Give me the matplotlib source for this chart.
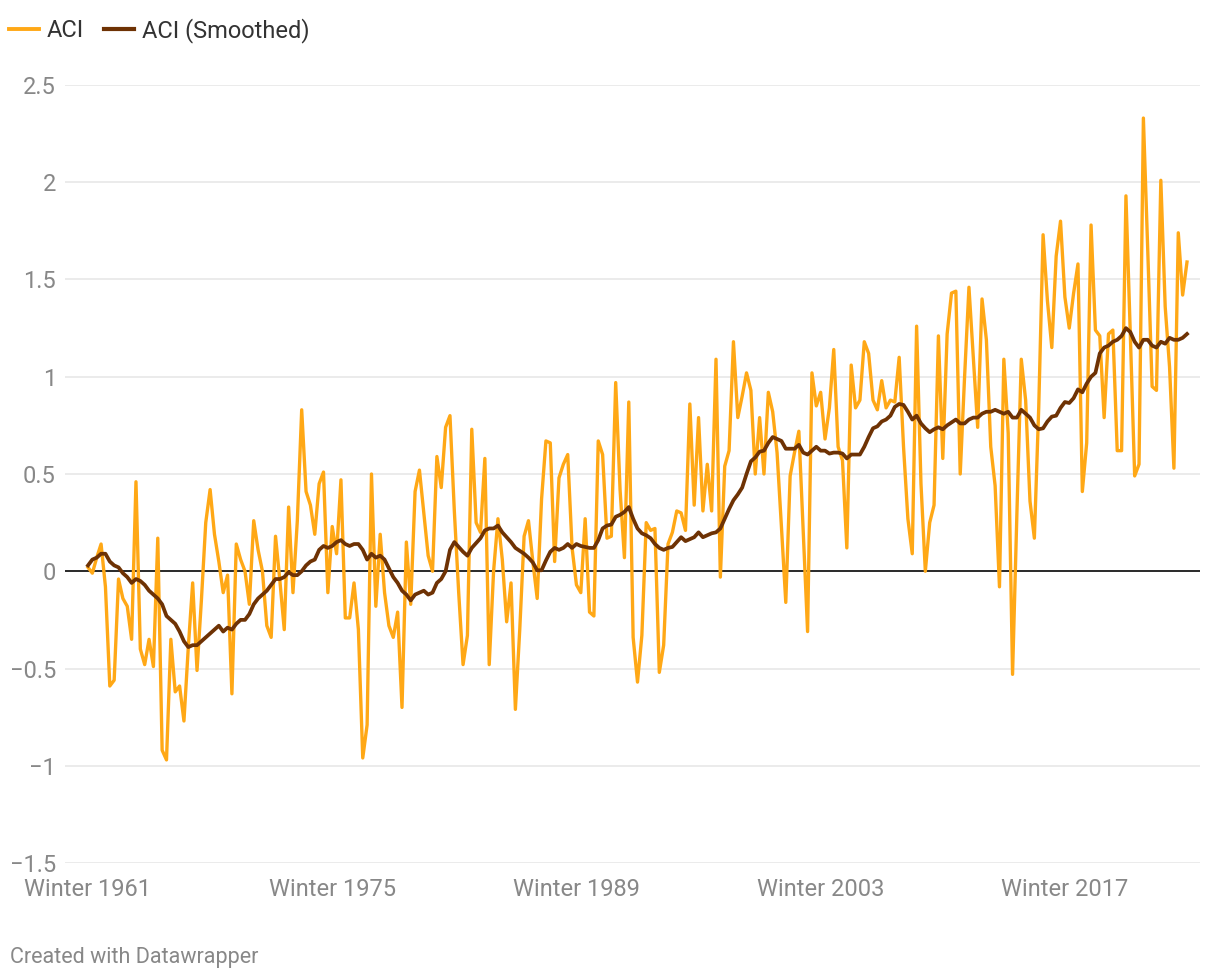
import numpy as np
import matplotlib
matplotlib.use("Agg")
from matplotlib import pyplot as plt
from matplotlib.lines import Line2D

plt.rcParams['font.family'] = ['Roboto', 'DejaVu Sans']

# seasonal ACI values, Winter 1961 .. Winter 2024
aci = [
    0.02, -0.01, 0.07, 0.14, -0.08, -0.59, -0.56, -0.04, -0.14, -0.18,
    -0.35, 0.46, -0.40, -0.48, -0.35, -0.49, 0.17, -0.92, -0.97, -0.35,
    -0.62, -0.59, -0.77, -0.39, -0.06, -0.51, -0.15, 0.25, 0.42, 0.19,
    0.05, -0.11, -0.02, -0.63, 0.14, 0.06, 0.00, -0.17, 0.26, 0.11,
    0.00, -0.28, -0.34, 0.18, -0.05, -0.30, 0.33, -0.11, 0.26, 0.83,
    0.41, 0.34, 0.19, 0.45, 0.51, -0.11, 0.23, 0.09, 0.47, -0.24,
    -0.24, -0.06, -0.30, -0.96, -0.79, 0.50, -0.18, 0.19, -0.11, -0.28,
    -0.34, -0.21, -0.70, 0.15, -0.17, 0.41, 0.52, 0.30, 0.08, 0.00,
    0.59, 0.43, 0.74, 0.80, 0.31, -0.11, -0.48, -0.33, 0.73, 0.25,
    0.20, 0.58, -0.48, 0.00, 0.27, 0.06, -0.26, -0.06, -0.71, -0.30,
    0.18, 0.26, 0.05, -0.14, 0.37, 0.67, 0.66, 0.05, 0.48, 0.55,
    0.60, 0.12, -0.07, -0.11, 0.27, -0.21, -0.23, 0.67, 0.60, 0.17,
    0.18, 0.97, 0.42, 0.07, 0.87, -0.34, -0.57, -0.33, 0.25, 0.21,
    0.22, -0.52, -0.38, 0.14, 0.20, 0.31, 0.30, 0.21, 0.86, 0.34,
    0.79, 0.31, 0.55, 0.31, 1.09, -0.03, 0.54, 0.62, 1.18, 0.79,
    0.90, 1.02, 0.93, 0.50, 0.79, 0.50, 0.92, 0.82, 0.61, 0.23,
    -0.16, 0.49, 0.61, 0.72, 0.20, -0.31, 1.02, 0.85, 0.92, 0.68,
    0.84, 1.14, 0.64, 0.57, 0.12, 1.06, 0.84, 0.88, 1.18, 1.12,
    0.88, 0.83, 0.98, 0.84, 0.88, 0.87, 1.10, 0.64, 0.27, 0.09,
    1.26, 0.45, 0.00, 0.25, 0.34, 1.21, 0.58, 1.22, 1.43, 1.44,
    0.50, 1.00, 1.46, 1.10, 0.74, 1.40, 1.19, 0.64, 0.44, -0.08,
    1.09, 0.71, -0.53, 0.30, 1.09, 0.88, 0.36, 0.17, 0.84, 1.73,
    1.39, 1.15, 1.62, 1.80, 1.41, 1.25, 1.43, 1.58, 0.41, 0.66,
    1.78, 1.24, 1.21, 0.79, 1.22, 1.24, 0.62, 0.62, 1.93, 1.22,
    0.49, 0.55, 2.33, 1.65, 0.95, 0.93, 2.01, 1.36, 1.05, 0.53,
    1.74, 1.42, 1.59,
]

aci_smoothed = [
    0.03, 0.06, 0.07, 0.09, 0.09, 0.05, 0.03, 0.02, -0.01, -0.03,
    -0.06, -0.04, -0.05, -0.07, -0.10, -0.12, -0.14, -0.17, -0.23, -0.25,
    -0.27, -0.31, -0.36, -0.39, -0.38, -0.38, -0.36, -0.34, -0.32, -0.30,
    -0.28, -0.31, -0.29, -0.30, -0.27, -0.25, -0.25, -0.22, -0.17, -0.14,
    -0.12, -0.10, -0.07, -0.04, -0.04, -0.03, -0.005, -0.02, -0.02, 0.00,
    0.03, 0.05, 0.06, 0.11, 0.13, 0.12, 0.13, 0.15, 0.16, 0.14,
    0.13, 0.14, 0.14, 0.11, 0.06, 0.09, 0.07, 0.08, 0.06, 0.015,
    -0.03, -0.06, -0.10, -0.12, -0.15, -0.12, -0.11, -0.10, -0.12, -0.11,
    -0.06, -0.04, 0.00, 0.11, 0.15, 0.125, 0.10, 0.08, 0.12, 0.145,
    0.17, 0.21, 0.22, 0.22, 0.235, 0.20, 0.175, 0.15, 0.12, 0.105,
    0.09, 0.07, 0.045, 0.005, 0.005, 0.055, 0.10, 0.12, 0.11, 0.12,
    0.14, 0.12, 0.14, 0.13, 0.125, 0.12, 0.12, 0.16, 0.22, 0.235,
    0.24, 0.28, 0.29, 0.305, 0.33, 0.27, 0.22, 0.195, 0.185, 0.17,
    0.14, 0.12, 0.11, 0.12, 0.125, 0.15, 0.175, 0.155, 0.165, 0.175,
    0.20, 0.175, 0.185, 0.195, 0.20, 0.22, 0.27, 0.32, 0.365, 0.395,
    0.43, 0.50, 0.565, 0.585, 0.615, 0.62, 0.66, 0.69, 0.68, 0.67,
    0.63, 0.63, 0.63, 0.65, 0.61, 0.60, 0.62, 0.64, 0.62, 0.62,
    0.605, 0.61, 0.61, 0.605, 0.58, 0.60, 0.60, 0.60, 0.64, 0.69,
    0.735, 0.745, 0.77, 0.78, 0.80, 0.845, 0.86, 0.855, 0.82, 0.78,
    0.80, 0.76, 0.735, 0.715, 0.73, 0.74, 0.73, 0.75, 0.765, 0.78,
    0.76, 0.76, 0.78, 0.79, 0.79, 0.81, 0.82, 0.82, 0.83, 0.82,
    0.81, 0.82, 0.79, 0.79, 0.83, 0.81, 0.79, 0.75, 0.73, 0.735,
    0.77, 0.795, 0.80, 0.84, 0.87, 0.865, 0.89, 0.935, 0.92, 0.965,
    1.00, 1.02, 1.12, 1.15, 1.16, 1.18, 1.19, 1.21, 1.25, 1.23,
    1.18, 1.15, 1.19, 1.19, 1.16, 1.15, 1.18, 1.17, 1.20, 1.19,
    1.19, 1.20, 1.22,
]

tick_pos = [0, 56, 112, 168, 224]
tick_labels = ['Winter 1961', 'Winter 1975', 'Winter 1989', 'Winter 2003', 'Winter 2017']
y_ticks = [-1.5, -1, -0.5, 0, 0.5, 1, 1.5, 2, 2.5]
y_labels = ['\u22121.5', '\u22121', '\u22120.5', '0', '0.5', '1', '1.5', '2', '2.5']

orange = '#ffa816'
brown = '#6e3204'
grey = '#888888'

fig = plt.figure(figsize=(12.2, 9.8), dpi=100)
ax = fig.add_axes([65 / 1220, 1 - 863 / 980, 1135 / 1220, 778 / 980])

x = np.arange(len(aci))
ax.plot(x, aci, color=orange, lw=2.4, solid_joinstyle='round', zorder=3)
ax.plot(x, aci_smoothed, color=brown, lw=2.7, solid_joinstyle='round', zorder=4)
ax.axhline(0, color='#1a1a1a', lw=1.3, zorder=2)

step = (1187 - 88) / (len(aci) - 1)
ax.set_xlim(-23 / step, (1200 - 88) / step)
ax.set_ylim(-1.5, 2.5)

ax.set_yticks(y_ticks)
ax.set_yticklabels(y_labels)
ax.set_xticks(tick_pos)
ax.set_xticklabels(tick_labels)
ax.tick_params(axis='both', length=0, labelsize=17, labelcolor=grey)
ax.tick_params(axis='y', pad=6.5)
ax.tick_params(axis='x', pad=11)
ax.yaxis.grid(True, color='#e5e5e5', lw=1.1, zorder=0)
ax.set_axisbelow(True)
for s in ax.spines.values():
    s.set_visible(False)

handles = [Line2D([], [], color=orange, lw=2.8),
           Line2D([], [], color=brown, lw=3.0)]
fig.legend(handles, ['ACI', 'ACI (Smoothed)'], loc='upper left',
           bbox_to_anchor=(9 / 1220, 1 - 18 / 980), ncol=2, frameon=False,
           fontsize=17, handlelength=1.27, handletextpad=0.34,
           columnspacing=0.85, borderpad=0, borderaxespad=0,
           labelcolor='#333333')

fig.text(10 / 1220, 1 - 957 / 980, 'Created with Datawrapper', fontsize=15.5,
         color=grey, va='center', ha='left')

fig.savefig('out.png', dpi=100)
